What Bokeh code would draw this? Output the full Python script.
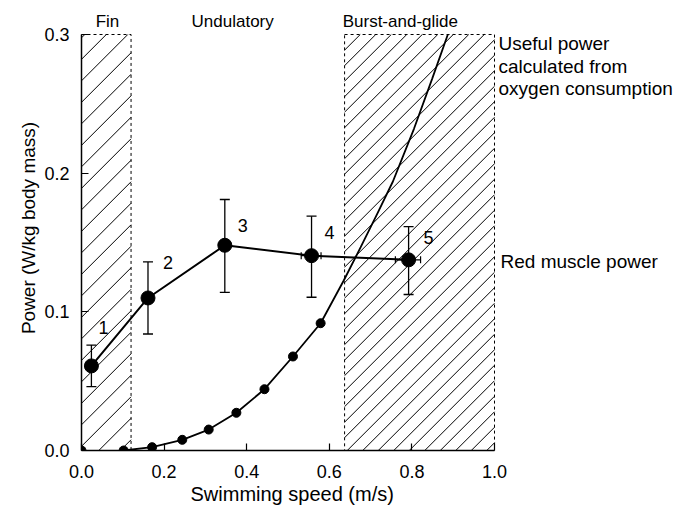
from bokeh.plotting import figure
from bokeh.models import Range1d, Label, Whisker, TeeHead, ColumnDataSource, FixedTicker, Title
from bokeh.embed import file_html
from bokeh.resources import INLINE

# ---- data ----
# locomotion regions (x ranges, m/s)
fin_region = [0.0, 0.12]
burst_region = [0.637, 1.0]
region_top = 0.3
region_names = ["Fin", "Undulatory", "Burst-and-glide"]
region_label_x = [0.063, 0.366, 0.772]

# red muscle power (points 1..5)
red_x = [0.024, 0.161, 0.347, 0.557, 0.792]
red_y = [0.061, 0.110, 0.148, 0.1405, 0.1375]
red_y_hi = [0.076, 0.136, 0.181, 0.169, 0.1615]
red_y_lo = [0.046, 0.084, 0.114, 0.1105, 0.1125]
red_labels = ["1", "2", "3", "4", "5"]
# horizontal error bars (points 4 and 5)
herr_y = [0.1405, 0.1375]
herr_lo = [0.532, 0.760]
herr_hi = [0.580, 0.821]

# useful power from oxygen consumption (markers)
oxy_x = [0.0, 0.102, 0.171, 0.244, 0.308, 0.375, 0.443, 0.512, 0.579]
oxy_y = [0.0, 0.0, 0.0024, 0.0077, 0.0151, 0.0272, 0.0442, 0.0678, 0.0918]
# curve continuation beyond the last marker
ext_x = [0.635, 0.676, 0.716, 0.754, 0.805, 0.849, 0.887]
ext_y = [0.1226, 0.1466, 0.1707, 0.194, 0.232, 0.268, 0.300]

x_ticks = [0.0, 0.2, 0.4, 0.6, 0.8, 1.0]
y_ticks = [0.0, 0.1, 0.2, 0.3]

FONT = "Liberation Sans"

# ---- layout geometry ----
W, H = 693, 505
BL, BR, BT, BB = 81, 3, 5, 55
PX_X = 413.0      # pixels per 1.0 m/s
PX_Y = 416.0 / 0.3  # pixels per W/kg
frame_w = W - BL - BR
frame_h = H - BT - BB
x_end = frame_w / PX_X
y_end = frame_h / PX_Y

p = figure(width=W, height=H, output_backend="svg", toolbar_location=None,
           x_range=Range1d(0, x_end), y_range=Range1d(0, y_end),
           min_border_left=BL, min_border_right=BR, min_border_top=BT, min_border_bottom=BB)
p.outline_line_color = None
p.grid.visible = False
p.background_fill_color = "white"
p.border_fill_color = "white"


def hatch_segments(x0, x1, y0, y1, spacing_px):
    """45-degree (screen) diagonal hatch lines clipped to a rectangle."""
    r = PX_X / PX_Y
    dy = spacing_px / PX_Y
    sx, sy, ex, ey = [], [], [], []
    b = y0 - r * (x1 - x0) + dy / 2
    while b < y1:
        if b < y0:
            ax, ay = x0 + (y0 - b) / r, y0
        else:
            ax, ay = x0, b
        by = r * (x1 - x0) + b
        if by > y1:
            bx, by = x0 + (y1 - b) / r, y1
        else:
            bx = x1
        sx.append(ax); sy.append(ay); ex.append(bx); ey.append(by)
        b += dy
    return sx, sy, ex, ey


for (xl, xr), spacing in [(fin_region, 21.5), (burst_region, 15.5)]:
    a, b_, c, d = hatch_segments(xl, xr, 0.0, region_top, spacing)
    p.segment(a, b_, c, d, line_color="black", line_width=1)
    p.quad(left=[xl], right=[xr], bottom=[0], top=[region_top],
           fill_color=None, line_color="black", line_dash="3 3", line_width=1)

# oxygen consumption curve
line_x = oxy_x[1:] + ext_x
line_y = oxy_y[1:] + ext_y
p.line(line_x, line_y, line_color="black", line_width=1.8)
p.scatter(oxy_x, oxy_y, size=9, fill_color="black", line_color="black")

# red muscle power
src = ColumnDataSource(dict(x=red_x, y=red_y, hi=red_y_hi, lo=red_y_lo))
p.add_layout(Whisker(source=src, base="x", upper="hi", lower="lo", dimension="height",
                     line_color="black", line_width=1.3,
                     upper_head=TeeHead(size=10, line_color="black", line_width=1.3),
                     lower_head=TeeHead(size=10, line_color="black", line_width=1.3)))
hsrc = ColumnDataSource(dict(y=herr_y, lo=herr_lo, hi=herr_hi))
p.add_layout(Whisker(source=hsrc, base="y", upper="hi", lower="lo", dimension="width",
                     line_color="black", line_width=1.2,
                     upper_head=TeeHead(size=7, line_color="black", line_width=1.2),
                     lower_head=TeeHead(size=7, line_color="black", line_width=1.2)))
p.line(red_x, red_y, line_color="black", line_width=2)
p.scatter(red_x, red_y, size=14, fill_color="black", line_color="black")

# point number labels
lbl_offsets = [(12, 38), (20, 35), (18, 20), (18, 23), (20, 22)]
for xv, yv, t, (dx, dy) in zip(red_x, red_y, red_labels, lbl_offsets):
    p.add_layout(Label(x=xv, y=yv, text=t, x_offset=dx, y_offset=dy,
                       text_align="center", text_baseline="middle",
                       text_font=FONT, text_font_size="18px", text_color="black"))

# region labels above the hatched areas
for xc, t in zip(region_label_x, region_names):
    p.add_layout(Label(x=xc, y=region_top, y_offset=13, text=t, text_align="center",
                       text_baseline="middle",
                       text_font=FONT, text_font_size="17px", text_color="black"))

# right side labels
right_lines = ["Useful power", "calculated from", "oxygen consumption"]
for i, t in enumerate(right_lines):
    p.add_layout(Label(x=1.0, y=region_top, x_offset=4, y_offset=-9 - 22.5 * i, text=t,
                       text_baseline="middle", text_font=FONT, text_font_size="19px",
                       text_color="black"))
p.add_layout(Label(x=1.0, y=red_y[-1], x_offset=6, y_offset=-2, text="Red muscle power",
                   text_baseline="middle", text_font=FONT, text_font_size="19px",
                   text_color="black"))

# axes
for ax in (p.xaxis, p.yaxis):
    ax.axis_line_width = 1.5
    ax.major_tick_in = 7
    ax.major_tick_out = 0
    ax.minor_tick_in = 0
    ax.minor_tick_out = 0
    ax.major_tick_line_width = 1.2
    ax.major_label_text_font = FONT
    ax.major_label_text_font_size = "18px"
    ax.major_label_text_color = "black"
    ax.axis_label_text_font = FONT
    ax.axis_label_text_font_size = "19px"
    ax.axis_label_text_font_style = "normal"
    ax.axis_label_text_color = "black"

p.xaxis.bounds = (0, 1.0)
p.yaxis.bounds = (0, 0.3)
p.xaxis.ticker = FixedTicker(ticks=x_ticks)
p.yaxis.ticker = FixedTicker(ticks=y_ticks)
p.xaxis.major_label_overrides = {v: f"{v:.1f}" for v in x_ticks}
p.yaxis.major_label_overrides = {v: f"{v:.1f}" for v in y_ticks}
p.yaxis.axis_label = "Power (W/kg body mass)"
p.xaxis.major_label_standoff = 14
p.yaxis.major_label_standoff = 12
p.yaxis.axis_label_standoff = 2

# x axis title, centred under the 0..1 axis span
p.add_layout(Title(text="Swimming speed (m/s)", align="left", offset=109, standoff=0,
                   text_font=FONT, text_font_size="20px", text_font_style="normal",
                   text_color="black"), "below")

open("out.html", "w").write(file_html(p, INLINE))
